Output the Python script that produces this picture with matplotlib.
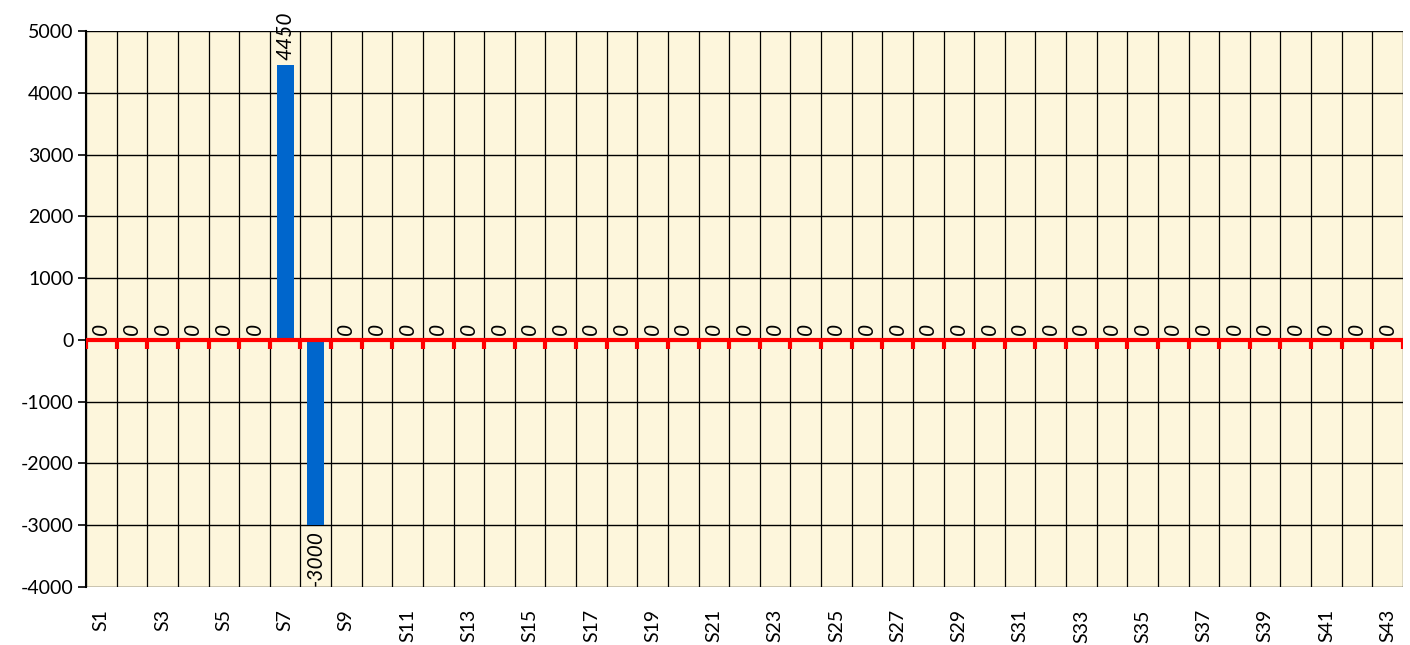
import matplotlib
matplotlib.use("Agg")
import matplotlib.pyplot as plt
import numpy as np

categories = ["S%d" % i for i in range(1, 44)]
values = [0] * 43
values[6] = 4450
values[7] = -3000

plt.rcParams['font.family'] = ['Lato', 'DejaVu Sans']
plt.rcParams['axes.unicode_minus'] = False

fig = plt.figure(figsize=(14.1, 6.45), dpi=100)
ax = fig.add_axes([86 / 1410, 1 - 587 / 645, (1403 - 86) / 1410, (587 - 31) / 645])
ax.set_facecolor("#fdf6dc")

x = np.arange(len(categories))
ax.bar(x, values, width=0.55, color="#0066cc", zorder=3)

ax.set_xlim(-0.5, len(categories) - 0.5)
ax.set_ylim(-4000, 5000)
ax.set_yticks(np.arange(-4000, 5001, 1000))
ax.tick_params(axis="y", labelsize=14, length=6, width=1.2, colors="black", pad=3)
ax.yaxis.grid(True, color="black", linewidth=1, zorder=1)

for b in np.arange(-0.5, len(categories), 1.0):
    ax.axvline(b, color="black", linewidth=0.9, zorder=1)

ax.set_xticks(x[::2])
ax.set_xticklabels(categories[::2], rotation=90, fontsize=14)
ax.tick_params(axis="x", length=0, pad=16)

for s in ["top", "right", "bottom"]:
    ax.spines[s].set_visible(False)
ax.spines["left"].set_linewidth(1.5)

# zero line with small ticks
ax.axhline(0, color="red", linewidth=3, zorder=4)
for b in np.arange(-0.5, len(categories), 1.0):
    ax.plot([b, b], [0, -150], color="red", linewidth=3, zorder=4, solid_capstyle="butt")

for xi, v in zip(x, values):
    if v >= 0:
        ax.text(xi, v + 80, str(v), rotation=90, ha="center", va="bottom",
                fontsize=15, style="italic", zorder=5)
    else:
        ax.text(xi, v - 80, str(v), rotation=90, ha="center", va="top",
                fontsize=15, style="italic", zorder=5)

fig.savefig("out.png", dpi=100, facecolor="white")
